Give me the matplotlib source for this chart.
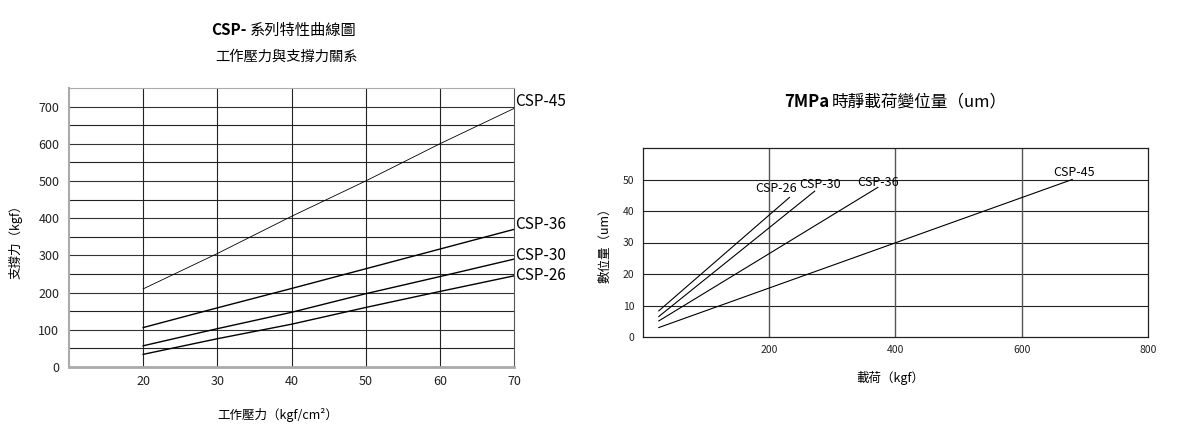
import matplotlib.pyplot as plt

plt.rcParams['font.family'] = ['Noto Sans CJK TC', 'DejaVu Sans']

# left chart: working pressure vs support force
pressure = [20, 30, 40, 50, 60, 70]
force_45 = [210, 305, 405, 500, 600, 695]
force_36 = [106, 159, 211, 264, 317, 370]
force_30 = [57, 103, 147, 197, 243, 290]
force_26 = [34, 76, 115, 160, 203, 245]
left_names = ['CSP-45', 'CSP-36', 'CSP-30', 'CSP-26']

# right chart: load vs displacement at 7MPa
load_start = [25, 25, 25, 25]
load_end = [232, 272, 372, 680]
disp_start = [8.3, 6.5, 5.1, 3.0]
disp_end = [44.3, 46.3, 47.5, 50.0]
right_names = ['CSP-26', 'CSP-30', 'CSP-36', 'CSP-45']
label_x = [211, 281, 372, 683]
label_y = [47.0, 48.3, 49.2, 52.3]

W, H = 1182, 433
fig = plt.figure(figsize=(W / 100, H / 100), dpi=100)

def px(x, y):
    return x / W, 1 - y / H

# ---- left ----
ax = fig.add_axes([69 / W, 1 - 367 / H, 445 / W, 279 / H])
ax.set_xlim(10, 70)
ax.set_ylim(0, 750)
for v in range(50, 750, 50):
    ax.axhline(v, color='#222222' if v % 100 else '#333333', lw=0.8, zorder=1)
for v in range(20, 70, 10):
    ax.axvline(v, color='#222222', lw=0.8, zorder=1)
series = [force_45, force_36, force_30, force_26]
widths = [0.6, 1.0, 1.0, 1.0]
lift = [18, 14, 11, 1]  # label offset above line end
for ys, name, w, d in zip(series, left_names, widths, lift):
    ax.plot(pressure, ys, color='black', lw=w, zorder=3)
    ax.text(70.2, ys[-1] + d, name, fontsize=11, va='center', ha='left', clip_on=False)
ax.set_xticks(pressure)
ax.set_yticks(range(0, 800, 100))
ax.tick_params(length=0, labelsize=9, colors='#222222', pad=6)
ax.tick_params(axis='y', pad=7)
for s in ['top', 'left']:
    ax.spines[s].set_color('#aaaaaa')
ax.spines['bottom'].set_color('#aaaaaa')
ax.spines['bottom'].set_linewidth(2)
ax.spines['left'].set_linewidth(1.5)
ax.spines['right'].set_color('#555555')
ax.set_xlabel('工作壓力（kgf/cm²）', fontsize=9)
ax.xaxis.set_label_coords(0.47, -0.148)
ax.set_ylabel('支撐力（kgf）', fontsize=9)
ax.yaxis.set_label_coords(-0.105, 0.46)

x, y = px(247, 30)
fig.text(x, y, 'CSP-', fontsize=11, fontweight='bold', ha='right', va='center')
fig.text(x + 3 / W, y, '系列特性曲線圖', fontsize=11, ha='left', va='center')
x, y = px(287, 57)
fig.text(x, y, '工作壓力與支撐力關系', fontsize=10.3, ha='center', va='center')

# ---- right ----
ax2 = fig.add_axes([643 / W, 1 - 337 / H, 505 / W, 189 / H])
ax2.set_xlim(0, 800)
ax2.set_ylim(0, 60)
for v in range(10, 60, 10):
    ax2.axhline(v, color='#222222', lw=0.8, zorder=1)
for v in [200, 400, 600]:
    ax2.axvline(v, color='#555555', lw=1.0, zorder=1)
for x0, x1, y0, y1, name, lx, ly in zip(load_start, load_end, disp_start, disp_end,
                                         right_names, label_x, label_y):
    ax2.plot([x0, x1], [y0, y1], color='black', lw=0.8, zorder=3)
    ax2.text(lx, ly, name, fontsize=9, ha='center', va='center', zorder=4)
ax2.set_xticks([200, 400, 600, 800])
ax2.set_yticks(range(0, 60, 10))
ax2.tick_params(length=0, labelsize=7.5, colors='#222222', pad=6)
for s in ax2.spines.values():
    s.set_color('#222222')
    s.set_linewidth(0.9)
ax2.set_xlabel('載荷（kgf）', fontsize=9)
ax2.xaxis.set_label_coords(0.489, -0.18)
ax2.set_ylabel('數位量（um）', fontsize=9)
ax2.yaxis.set_label_coords(-0.063, 0.5)

x, y = px(829, 102)
fig.text(x, y, '7MPa', fontsize=12, fontweight='bold', ha='right', va='center')
fig.text(x + 3 / W, y, '時靜載荷變位量（um）', fontsize=12, ha='left', va='center')

fig.savefig('out.png', dpi=100)
